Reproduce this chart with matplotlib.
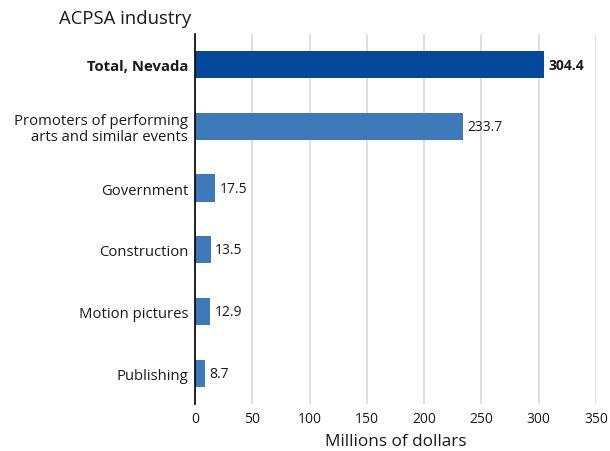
import matplotlib
matplotlib.use('Agg')
import matplotlib.pyplot as plt

################## DATA ####################

industries = ['Total, Nevada', 'Promoters of performing\narts and similar events',
              'Government', 'Construction', 'Motion pictures', 'Publishing']
values = [304.4, 233.7, 17.5, 13.5, 12.9, 8.7]
x_ticks = [0, 50, 100, 150, 200, 250, 300, 350]

################## PLOT ####################

plt.rcParams['font.family'] = ['Open Sans', 'DejaVu Sans']

fig = plt.figure(figsize=(6.1, 4.52), dpi=100)
ax = fig.add_axes([0.32, 0.104, 0.657, 0.819])

colors = ['#03489a'] + ['#3c7ab9'] * (len(values) - 1)
pos = list(range(len(values)))
ax.barh(pos, values, height=0.44, color=colors, zorder=3)

# value labels
for i, v in enumerate(values):
    ax.text(v + 4, i, f'{v:.1f}', va='center', ha='left', fontsize=10,
            fontweight='bold' if i == 0 else 'normal', color='#1a1a1a')

ax.set_ylim(len(values) - 0.5, -0.5)
ax.set_xlim(0, 350)
ax.set_yticks(pos)
ax.set_yticklabels(industries, fontsize=10.7, color='#1a1a1a', linespacing=1.05)
ax.get_yticklabels()[0].set_fontweight('bold')
ax.set_xticks(x_ticks)
ax.set_xticklabels([str(t) for t in x_ticks], fontsize=10, color='#1a1a1a')
ax.tick_params(length=0, pad=5)

ax.grid(axis='x', color='#d9d9d9', linewidth=1.2, zorder=0)
for s in ['top', 'right', 'bottom']:
    ax.spines[s].set_visible(False)
ax.spines['left'].set_color('black')
ax.spines['left'].set_linewidth(1.2)
ax.spines['left'].set_zorder(4)

ax.set_xlabel('Millions of dollars', fontsize=12.3, color='#1a1a1a', labelpad=5)
fig.text(0.313, 0.958, 'ACPSA industry', ha='right', va='center',
         fontsize=13.3, color='#1a1a1a')

fig.savefig('out.png', dpi=100)
